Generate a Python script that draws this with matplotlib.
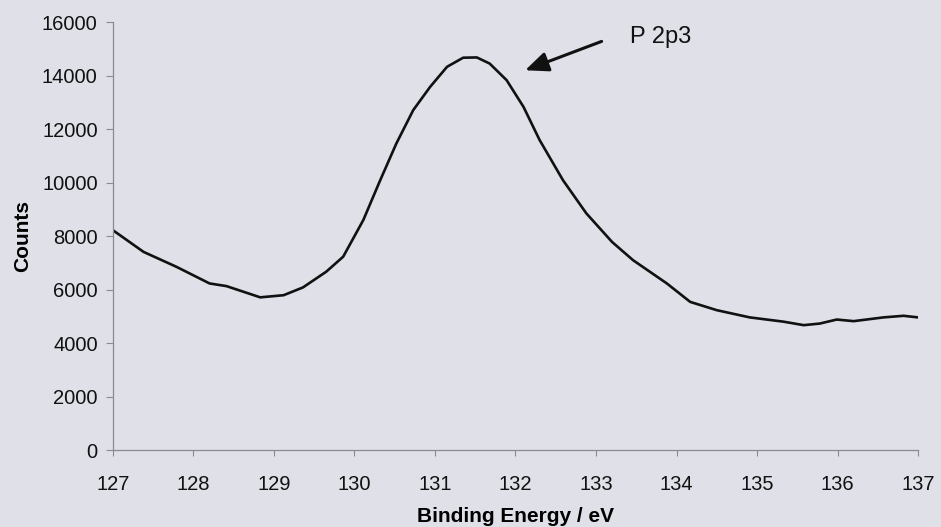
import matplotlib
matplotlib.use("Agg")
import matplotlib.pyplot as plt

# P 2p3 XPS spectrum
energy = [127.0, 127.38, 127.79, 128.2, 128.41, 128.62, 128.83, 129.12, 129.36, 129.65,
          129.86, 130.11, 130.32, 130.52, 130.73, 130.94, 131.15, 131.35, 131.52,
          131.68, 131.89, 132.10, 132.30, 132.59, 132.88, 133.2, 133.46, 133.88,
          134.17, 134.50, 134.91, 135.33, 135.58, 135.78, 135.99, 136.20, 136.57,
          136.82, 137.0]
counts = [8220, 7410, 6850, 6230, 6130, 5920, 5710, 5790, 6080, 6670,
          7230, 8600, 10090, 11460, 12710, 13580, 14330, 14670, 14680,
          14450, 13830, 12830, 11590, 10090, 8850, 7780, 7100, 6230,
          5540, 5230, 4960, 4800, 4670, 4730, 4880, 4820, 4960,
          5020, 4960]

xticks = list(range(127, 138))
yticks = list(range(0, 16001, 2000))

BG = "#dfe0e8"
AX = "#8a8a90"

plt.rcParams["font.family"] = ["Liberation Sans", "DejaVu Sans"]
fig = plt.figure(figsize=(9.41, 5.27), dpi=100, facecolor=BG)
ax = fig.add_axes([0.120, 0.146, 0.8556, 0.812], facecolor=BG)

ax.plot(energy, counts, color="#111111", lw=1.9, solid_capstyle="round",
        solid_joinstyle="round")

ax.set_xlim(127, 137); ax.set_ylim(0, 16000)
ax.set_xticks(xticks); ax.set_yticks(yticks)
ax.tick_params(axis="both", colors=AX, labelcolor="#111111", labelsize=14.5, width=0.8)
ax.tick_params(axis="y", length=5, pad=6)
ax.tick_params(axis="x", length=4, pad=14)
for s in ("top", "right"):
    ax.spines[s].set_visible(False)
for s in ("left", "bottom"):
    ax.spines[s].set_color(AX); ax.spines[s].set_linewidth(0.9)

ax.set_xlabel("Binding Energy / eV", fontsize=15, fontweight="bold", labelpad=9)
ax.set_ylabel("Counts", fontsize=15, fontweight="bold")
ax.yaxis.set_label_coords(-0.1, 0.5)

ax.annotate("", xy=(132.12, 14200), xytext=(133.07, 15280),
            arrowprops=dict(arrowstyle="-|>,head_length=1.4,head_width=0.6",
                            color="#111111", lw=2.2, shrinkA=0, shrinkB=0))
ax.text(133.42, 15430, "P 2p3", fontsize=17, va="center", ha="left", color="#111111")

fig.savefig("out.png", dpi=100, facecolor=BG)
